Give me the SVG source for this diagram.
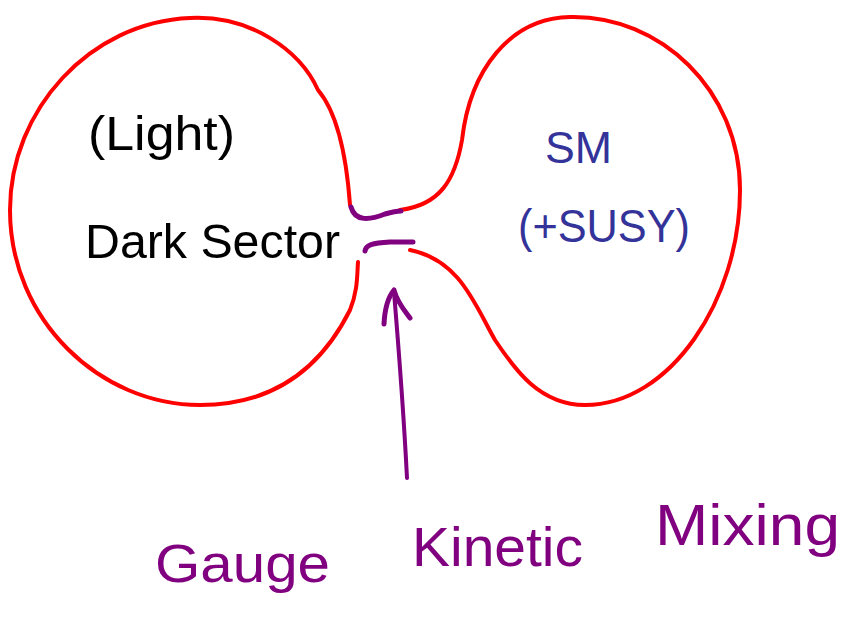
<svg xmlns="http://www.w3.org/2000/svg" width="842" height="629" viewBox="0 0 842 629">
<style>
.red{fill:none;stroke:#ff0000;stroke-width:4;stroke-linecap:round;stroke-linejoin:round}
.pur{fill:none;stroke:#800080;stroke-width:5;stroke-linecap:round;stroke-linejoin:round}
.shaft{fill:none;stroke:#800080;stroke-width:4;stroke-linecap:round}
.blk{font-family:"Liberation Sans",sans-serif;fill:#000}
.blu{font-family:"Liberation Sans",sans-serif;fill:#333399}
.vio{font-family:"Liberation Sans",sans-serif;fill:#800080}
</style>
<rect width="842" height="629" fill="#fff"/>
<g id="dark-sector">
<path class="red" d="M 350 205 C 346 150, 335 110, 318 90 C 300 50, 250 15, 190 18 C 90 22, 10 110, 10 210 C 10 320, 100 405, 200 405 C 290 405, 330 350, 350 310 C 358 290, 357 275, 358 262"/>
<text class="blk" x="88" y="150" font-size="48" textLength="147" lengthAdjust="spacingAndGlyphs">(Light)</text>
<text class="blk" x="85" y="258" font-size="48" textLength="255" lengthAdjust="spacingAndGlyphs">Dark Sector</text>
</g>
<g id="sm">
<path class="red" d="M 400 210 C 440 205, 455 180, 462 140 C 470 70, 510 18, 570 17 C 660 15, 740 90, 740 190 C 740 300, 670 405, 585 405 C 540 405, 515 370, 495 340 C 475 305, 460 260, 410 250"/>
<text class="blu" x="545" y="163" font-size="44" textLength="67" lengthAdjust="spacingAndGlyphs">SM</text>
<text class="blu" x="518" y="242" font-size="46" textLength="172" lengthAdjust="spacingAndGlyphs">(+SUSY)</text>
</g>
<g id="connectors">
<path class="pur" d="M 351 207 C 355 222, 370 220, 385 214 C 392 212, 398 211, 401 211"/>
<path class="pur" d="M 365 251 C 366 245, 372 243, 390 242 L 413 242"/>
<path class="shaft" d="M 407 478 C 403 400, 398 340, 394 292"/>
<path class="pur" d="M 384 324 C 385 305, 389 296, 394 290 C 397 302, 404 310, 410 318"/>
</g>
<g id="label">
<text class="vio" x="155" y="582" font-size="54" textLength="175" lengthAdjust="spacingAndGlyphs">Gauge</text>
<text class="vio" x="412" y="566" font-size="56" textLength="171" lengthAdjust="spacingAndGlyphs">Kinetic</text>
<text class="vio" x="655" y="545" font-size="58" textLength="185" lengthAdjust="spacingAndGlyphs">Mixing</text>
</g>
</svg>
